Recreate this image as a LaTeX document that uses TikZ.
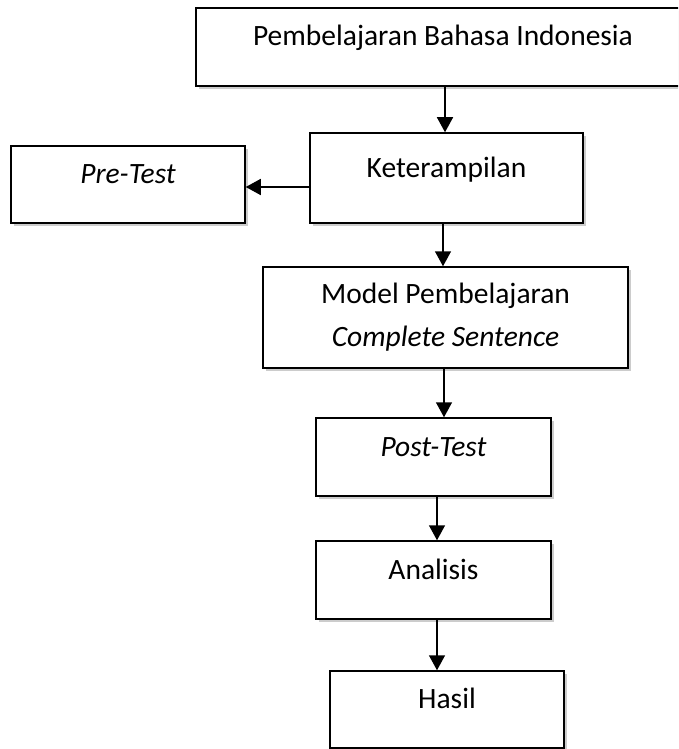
\documentclass[tikz,border=0pt]{standalone}
\usepackage{fontspec}
\setmainfont{Carlito}
\usetikzlibrary{arrows.meta,shadows}
\begin{document}
\begin{tikzpicture}[x=1pt,y=-1pt,
  box/.style={draw, line width=1.5pt, fill=white,
    drop shadow={shadow xshift=2.5pt, shadow yshift=-3pt, fill=black, opacity=0.2},
    font=\fontsize{29.5}{43}\selectfont, inner sep=0pt},
  onel/.style={text height=20pt, text depth=22pt},
  arr/.style={line width=1.5pt, -{Triangle[width=16pt,length=15pt]}}]
\useasboundingbox (0,0) rectangle (678,749);
\clip (0,0) rectangle (678,749);
\node[box, onel, minimum width=494pt, minimum height=78pt] (b1) at (443,47) {Pembelajaran Bahasa Indonesia};
\node[box, onel, minimum width=273pt, minimum height=90pt] (k) at (446.5,178) {Keterampilan};
\node[box, onel, minimum width=234pt, minimum height=77pt] (pre) at (128,184.5) {\itshape Pre-Test};
\node[box, align=center, minimum width=365pt, minimum height=101pt] (m) at (445.5,317.5) {Model Pembelajaran\\\itshape Complete Sentence};
\node[box, onel, minimum width=235pt, minimum height=78pt] (post) at (433.5,457) {\itshape Post-Test};
\node[box, onel, minimum width=235pt, minimum height=78pt] (an) at (433.5,580) {Analisis};
\node[box, onel, minimum width=234pt, minimum height=77pt] (h) at (447,709.5) {Hasil};
\coordinate (c1) at (445,0);
\coordinate (c2) at (443,0);
\coordinate (c3) at (444,0);
\coordinate (c4) at (437,0);
\coordinate (c5) at (0,187);
\draw[arr] (b1.south -| c1) -- (k.north -| c1);
\draw[arr] (k.west |- c5) -- (pre.east |- c5);
\draw[arr] (k.south -| c2) -- (m.north -| c2);
\draw[arr] (m.south -| c3) -- (post.north -| c3);
\draw[arr] (post.south -| c4) -- (an.north -| c4);
\draw[arr] (an.south -| c4) -- (h.north -| c4);
\end{tikzpicture}
\end{document}
